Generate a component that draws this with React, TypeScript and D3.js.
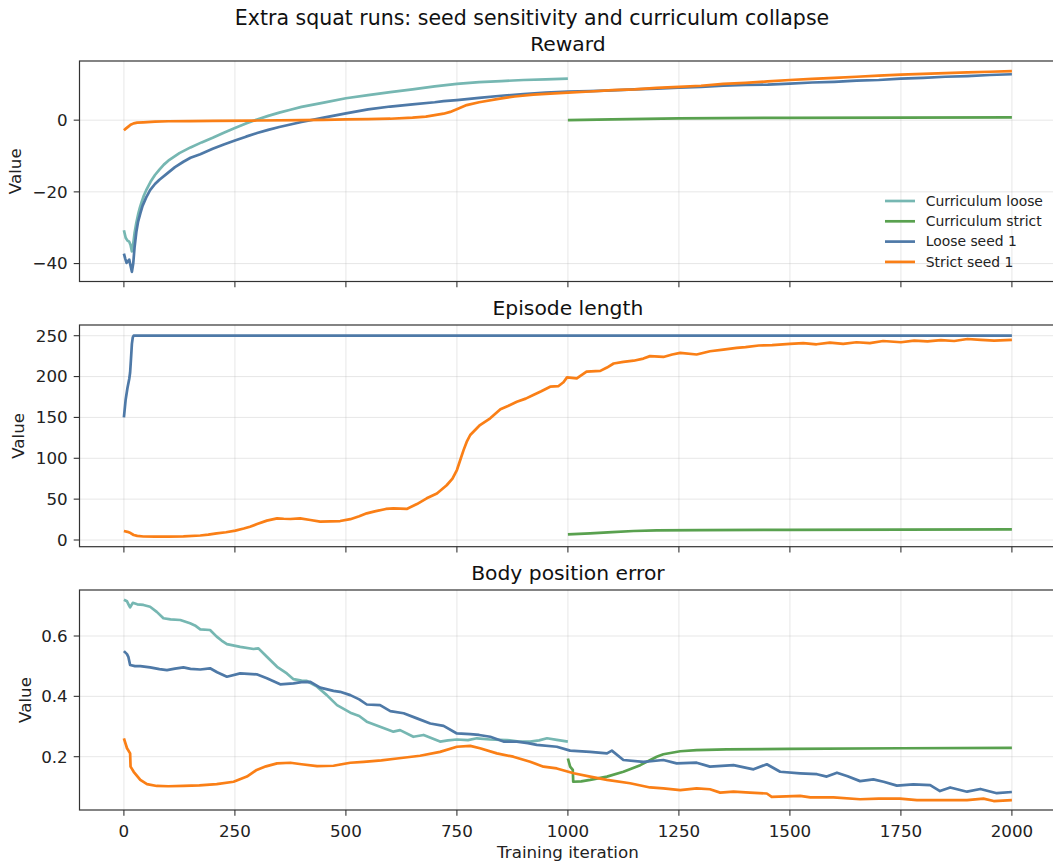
import * as d3 from 'd3';

type Pt = [number, number];

// Series labels and colours (legend order)
const seriesNames = ['Curriculum loose', 'Curriculum strict', 'Loose seed 1', 'Strict seed 1'];
const seriesColors = ['#76b7b2', '#59a14f', '#4e79a7', '#fa7f16'];

const panelTitles = ['Reward', 'Episode length', 'Body position error'];
const xTicks = [0, 250, 500, 750, 1000, 1250, 1500, 1750, 2000];
const rewardTicks = [-40, -20, 0];
const lengthTicks = [0, 50, 100, 150, 200, 250];
const errorTicks = [0.2, 0.4, 0.6];

// Reward
const rewardCurriculumLoose: Pt[] = [[0,-30.7],[4,-32.8],[8,-33.6],[12,-33.9],[15,-34.8],[18,-36.6],[21,-34.5],[24,-31.5],[28,-28.6],[32,-26.3],[36,-24.4],[40,-22.8],[45,-21.0],[50,-19.6],[60,-17.2],[70,-15.3],[80,-13.8],[90,-12.4],[100,-11.3],[125,-9.2],[150,-7.6],[175,-6.2],[200,-4.9],[225,-3.5],[250,-2.2],[275,-0.9],[300,0.2],[325,1.2],[350,2.1],[375,2.9],[400,3.7],[450,4.9],[500,6.1],[550,7.0],[600,7.8],[650,8.6],[700,9.4],[750,10.1],[800,10.6],[850,10.9],[900,11.2],[950,11.4],[1000,11.6]];
const rewardCurriculumStrict: Pt[] = [[1000,0.0],[1100,0.2],[1250,0.5],[1500,0.65],[1750,0.72],[2000,0.78]];
const rewardLooseSeed1: Pt[] = [[0,-37.2],[3,-38.6],[6,-39.8],[9,-39.4],[12,-38.9],[15,-40.6],[18,-42.3],[21,-40.0],[24,-35.5],[28,-31.2],[32,-28.3],[37,-26.0],[42,-23.9],[50,-21.6],[59,-19.5],[70,-17.8],[80,-16.6],[97,-14.9],[115,-13.1],[134,-11.6],[150,-10.5],[172,-9.5],[200,-8.0],[225,-6.8],[250,-5.7],[275,-4.6],[300,-3.6],[325,-2.7],[350,-1.9],[375,-1.2],[400,-0.5],[450,0.7],[500,1.9],[550,3.0],[600,3.8],[650,4.4],[700,5.0],[720,5.3],[750,5.6],[800,6.2],[850,6.8],[900,7.3],[950,7.7],[1000,8.0],[1050,8.1],[1100,8.3],[1150,8.6],[1200,8.8],[1250,9.1],[1300,9.3],[1350,9.6],[1400,9.8],[1450,9.9],[1500,10.2],[1550,10.5],[1600,10.7],[1650,11.0],[1700,11.2],[1750,11.6],[1800,11.8],[1850,12.1],[1900,12.3],[1950,12.6],[2000,12.8]];
const rewardStrictSeed1: Pt[] = [[0,-2.8],[5,-2.3],[10,-1.8],[15,-1.3],[22,-0.9],[30,-0.7],[44,-0.6],[70,-0.4],[100,-0.3],[150,-0.25],[200,-0.2],[300,-0.1],[400,0.0],[450,0.1],[500,0.2],[550,0.3],[600,0.4],[650,0.7],[680,1.0],[700,1.4],[720,1.8],[735,2.3],[755,3.3],[772,4.2],[800,5.0],[847,6.0],[880,6.6],[922,7.1],[960,7.4],[1000,7.7],[1050,8.0],[1100,8.4],[1150,8.6],[1200,9.0],[1250,9.3],[1300,9.6],[1350,10.1],[1400,10.4],[1450,10.8],[1500,11.2],[1550,11.5],[1600,11.8],[1650,12.1],[1700,12.4],[1750,12.7],[1800,12.9],[1850,13.1],[1900,13.3],[1950,13.5],[2000,13.7]];

// Episode length
const lengthCurriculumLoose: Pt[] = [];
const lengthCurriculumStrict: Pt[] = [[1000,7],[1050,8.2],[1100,9.6],[1148,11.0],[1200,11.8],[1300,12.2],[1500,12.5],[1750,12.8],[2000,13.0]];
const lengthLooseSeed1: Pt[] = [[0,150],[4,172],[8,186],[12,197],[14,205],[16,222],[18,240],[20,248],[22,250],[500,250],[1000,250],[1500,250],[2000,250]];
const lengthStrictSeed1: Pt[] = [[0,11],[8,10],[15,8.5],[22,6.1],[30,5.0],[44,4.3],[70,4.1],[100,4.2],[134,4.5],[172,5.5],[190,6.5],[209,8.2],[230,9.5],[251,11.5],[270,14],[284,16.3],[300,19.5],[322,23.7],[345,26.5],[360,26.0],[375,25.7],[397,26.5],[420,24.5],[442,22.4],[465,22.8],[487,23.2],[510,25.5],[530,29],[547,32.6],[565,35],[590,38],[607,38.8],[637,38],[660,44],[682,51],[705,57],[727,67],[740,75],[750,85.6],[757,97],[765,110],[772,120],[780,128.5],[802,140.7],[825,148.9],[848,160],[865,164],[885,169.2],[905,173],[922,177.4],[940,182],[960,187.6],[979,188.4],[990,193],[998,199],[1020,197.8],[1042,206],[1073,207],[1088,211],[1103,216],[1125,218],[1148,219.4],[1170,222],[1185,225],[1215,224],[1235,227],[1253,229],[1290,227],[1320,231],[1350,233],[1380,235],[1400,236],[1430,238],[1460,238.5],[1500,240],[1530,241],[1560,239.5],[1590,241.5],[1620,240],[1650,242],[1680,241],[1710,243.5],[1750,242],[1780,244],[1810,243],[1840,244.5],[1870,243.5],[1900,246],[1930,245],[1960,244],[2000,245]];

// Body position error
const errorCurriculumLoose: Pt[] = [[0,0.72],[7,0.715],[12,0.70],[14,0.695],[20,0.71],[30,0.705],[44,0.703],[59,0.697],[74,0.68],[89,0.659],[105,0.655],[127,0.653],[149,0.642],[160,0.635],[172,0.622],[194,0.62],[209,0.598],[220,0.585],[232,0.573],[262,0.564],[292,0.557],[303,0.559],[322,0.531],[345,0.498],[367,0.476],[382,0.457],[400,0.452],[412,0.451],[435,0.432],[457,0.404],[480,0.371],[510,0.346],[530,0.335],[547,0.316],[577,0.299],[607,0.283],[622,0.288],[652,0.266],[675,0.272],[712,0.25],[730,0.254],[750,0.257],[775,0.255],[795,0.261],[825,0.257],[863,0.255],[890,0.25],[915,0.25],[935,0.254],[953,0.261],[975,0.256],[1000,0.25]];
const errorCurriculumStrict: Pt[] = [[1000,0.194],[1005,0.167],[1011,0.156],[1012,0.117],[1030,0.118],[1050,0.123],[1088,0.134],[1125,0.15],[1163,0.172],[1200,0.2],[1215,0.208],[1253,0.218],[1290,0.222],[1358,0.224],[1500,0.226],[1750,0.228],[2000,0.229]];
const errorLooseSeed1: Pt[] = [[0,0.55],[7,0.54],[10,0.531],[14,0.504],[25,0.50],[37,0.50],[59,0.496],[80,0.49],[97,0.487],[115,0.492],[134,0.496],[150,0.491],[172,0.489],[194,0.493],[210,0.48],[232,0.465],[262,0.476],[299,0.473],[322,0.46],[352,0.44],[382,0.443],[400,0.447],[420,0.448],[442,0.429],[472,0.418],[487,0.415],[510,0.404],[530,0.39],[547,0.373],[577,0.371],[600,0.351],[630,0.344],[660,0.327],[690,0.31],[720,0.302],[750,0.277],[780,0.275],[800,0.272],[825,0.266],[855,0.25],[885,0.25],[910,0.245],[930,0.239],[975,0.233],[1005,0.22],[1050,0.216],[1088,0.211],[1099,0.22],[1125,0.189],[1170,0.183],[1215,0.189],[1245,0.178],[1290,0.18],[1320,0.167],[1373,0.172],[1418,0.158],[1448,0.175],[1478,0.15],[1523,0.145],[1561,0.142],[1583,0.134],[1606,0.147],[1630,0.135],[1658,0.119],[1688,0.125],[1711,0.117],[1741,0.104],[1778,0.108],[1816,0.106],[1838,0.086],[1861,0.098],[1899,0.084],[1929,0.093],[1966,0.079],[2000,0.083]];
const errorStrictSeed1: Pt[] = [[0,0.261],[7,0.228],[14,0.211],[15,0.167],[22,0.15],[37,0.123],[52,0.109],[74,0.103],[100,0.102],[134,0.103],[170,0.105],[209,0.109],[247,0.117],[277,0.134],[299,0.156],[320,0.168],[345,0.178],[375,0.18],[400,0.175],[435,0.169],[472,0.17],[510,0.18],[540,0.183],[580,0.188],[615,0.194],[667,0.203],[712,0.216],[750,0.233],[780,0.236],[802,0.228],[840,0.211],[877,0.2],[915,0.183],[945,0.167],[975,0.161],[1013,0.145],[1050,0.134],[1088,0.123],[1140,0.112],[1185,0.098],[1215,0.095],[1253,0.089],[1290,0.095],[1320,0.092],[1343,0.081],[1373,0.084],[1410,0.081],[1448,0.078],[1459,0.067],[1523,0.07],[1546,0.065],[1598,0.065],[1658,0.059],[1700,0.061],[1748,0.061],[1786,0.056],[1850,0.056],[1899,0.056],[1936,0.061],[1959,0.053],[2000,0.056]];

const FONT = 'DejaVu Sans, sans-serif';
const W = 1053;
const H = 865;

const x = d3.scaleLinear().domain([-100, 2100]).range([79.5, 1056.3]);

const panels = [
  { title: panelTitles[0], top: 61, bottom: 281.5, domain: [-45.0, 16.5], ticks: rewardTicks, fmt: (v: number) => d3.format('d')(v), labelX: 15,
    series: [rewardCurriculumLoose, rewardCurriculumStrict, rewardLooseSeed1, rewardStrictSeed1], legend: true },
  { title: panelTitles[1], top: 325, bottom: 546.7, domain: [-8.2, 263.1], ticks: lengthTicks, fmt: (v: number) => d3.format('d')(v), labelX: 18.5,
    series: [lengthCurriculumLoose, lengthCurriculumStrict, lengthLooseSeed1, lengthStrictSeed1], legend: false },
  { title: panelTitles[2], top: 590, bottom: 810, domain: [0.0233, 0.7525], ticks: errorTicks, fmt: (v: number) => d3.format('.1f')(v), labelX: 25,
    series: [errorCurriculumLoose, errorCurriculumStrict, errorLooseSeed1, errorStrictSeed1], legend: false },
];

const Panel = ({ p, last }: { p: typeof panels[number]; last: boolean }) => {
  const y = d3.scaleLinear().domain(p.domain).range([p.bottom, p.top]);
  const line = d3.line<Pt>().x(d => x(d[0])).y(d => y(d[1]));
  const [x0, x1] = x.range();
  const midX = (x0 + x1) / 2;
  const tickLen = 5.8;
  return (
    <g>
      {/* grid */}
      {xTicks.map(t => (
        <line key={'gx' + t} x1={x(t)} x2={x(t)} y1={p.top} y2={p.bottom} stroke="#b0b0b0" strokeOpacity={0.3} strokeWidth={1} />
      ))}
      {p.ticks.map(t => (
        <line key={'gy' + t} x1={x0} x2={x1} y1={y(t)} y2={y(t)} stroke="#b0b0b0" strokeOpacity={0.3} strokeWidth={1} />
      ))}
      {/* series */}
      {p.series.map((s, i) => s.length ? (
        <path key={'s' + i} d={line(s) || ''} fill="none" stroke={seriesColors[i]} strokeWidth={2.7} strokeLinejoin="round" strokeLinecap="butt" />
      ) : null)}
      {/* spines */}
      <rect x={x0} y={p.top} width={x1 - x0} height={p.bottom - p.top} fill="none" stroke="#333" strokeWidth={1.2} />
      {/* x ticks */}
      {xTicks.map(t => (
        <g key={'tx' + t}>
          <line x1={x(t)} x2={x(t)} y1={p.bottom} y2={p.bottom + tickLen} stroke="#333" strokeWidth={1.1} />
          {last && (
            <text x={x(t)} y={p.bottom + tickLen + 21} textAnchor="middle" fontSize={16.7} fill="#222" fontFamily={FONT}>{t}</text>
          )}
        </g>
      ))}
      {/* y ticks */}
      {p.ticks.map(t => (
        <g key={'ty' + t}>
          <line x1={x0 - tickLen} x2={x0} y1={y(t)} y2={y(t)} stroke="#333" strokeWidth={1.1} />
          <text x={x0 - tickLen - 6} y={y(t)} dy="0.35em" textAnchor="end" fontSize={16.7} fill="#222" fontFamily={FONT}>
            {p.fmt(t).replace('-', '\u2212')}
          </text>
        </g>
      ))}
      <text transform={`translate(${p.labelX},${(p.top + p.bottom) / 2}) rotate(-90)`} dy="0.35em" textAnchor="middle" fontSize={16.7} fill="#222" fontFamily={FONT}>Value</text>
      <text x={midX} y={p.top - 10} textAnchor="middle" fontSize={20.3} fill="#111" fontFamily={FONT}>{p.title}</text>
      {p.legend && seriesNames.map((n, i) => {
        const ly = 201 + i * 20.3;
        return (
          <g key={'lg' + i}>
            <line x1={885} x2={915} y1={ly} y2={ly} stroke={seriesColors[i]} strokeWidth={2.7} />
            <text x={925.7} y={ly} dy="0.35em" fontSize={13.9} fill="#222" fontFamily={FONT}>{n}</text>
          </g>
        );
      })}
      {last && (
        <text x={midX} y={858} textAnchor="middle" fontSize={16.7} fill="#222" fontFamily={FONT}>Training iteration</text>
      )}
    </g>
  );
};

export default function App() {
  return (
    <svg width={W} height={H} style={{ position: 'absolute', left: 0, top: 0, background: '#fff' }}>
      <rect width={W} height={H} fill="#fff" />
      <text x={532} y={25} textAnchor="middle" fontSize={20.5} fill="#111" fontFamily={FONT}>
        Extra squat runs: seed sensitivity and curriculum collapse
      </text>
      {panels.map((p, i) => (
        <Panel key={i} p={p} last={i === panels.length - 1} />
      ))}
    </svg>
  );
}
